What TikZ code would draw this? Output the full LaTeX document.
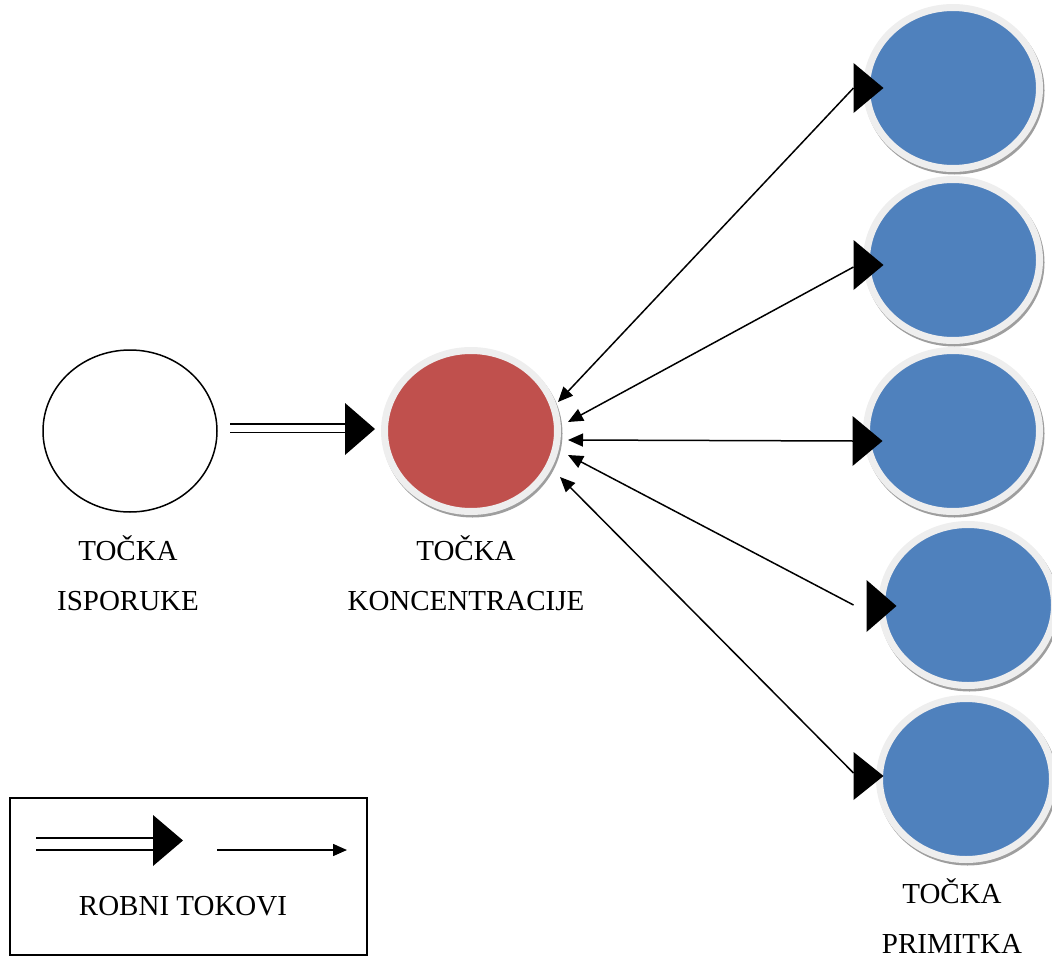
\documentclass[tikz,border=0pt]{standalone}
\usepackage{fontspec}
\setmainfont{Liberation Serif}
\usetikzlibrary{arrows.meta,shapes.geometric,calc}
\definecolor{redfill}{HTML}{C0504D}
\definecolor{bluefill}{HTML}{4F81BD}
\definecolor{ringcol}{HTML}{EEEEEE}
\begin{document}
\begin{tikzpicture}[x=1pt,y=-1pt,
  lbl/.style={font=\fontsize{29}{50}\selectfont, align=center, anchor=base, inner sep=0pt},
  dot/.style={ellipse, minimum width=173pt, minimum height=161pt, inner sep=0pt, outer sep=0pt,
    draw=ringcol, line width=7pt,
    preaction={draw=black!38, line width=7pt, transform canvas={shift={(1.5pt,-2.5pt)}}}},
  plain/.style={ellipse, draw=black, line width=1.5pt, minimum width=174pt, minimum height=162pt, inner sep=0pt, outer sep=0pt},
  flow/.style={line width=1.5pt, {Triangle[length=15pt,width=13pt]}-},
  dbl/.style={line width=1.5pt, double, double distance=#1},
  box/.style={draw=black, line width=1.5pt, minimum width=357pt, minimum height=157pt, inner sep=0pt, outer sep=0pt}
]
\useasboundingbox (0,0) rectangle (1052,958);

% nodes
\node[plain] (isp) at (130,431) {};
\node[dot, fill=redfill] (konc) at (471,431) {};
\node[dot, fill=bluefill] (b1) at (953,88) {};
\node[dot, fill=bluefill] (b2) at (953,260) {};
\node[dot, fill=bluefill] (b3) at (953,431) {};
\node[dot, fill=bluefill] (b4) at (968,605) {};
\node[dot, fill=bluefill] (b5) at (966,779) {};

% labels (anchor base = baseline of the last line)
\node[lbl] (lisp) at (128,610) {TOČKA\\ISPORUKE};
\node[lbl] (lkonc) at (466,610) {TOČKA\\KONCENTRACIJE};
\node[lbl] (lprim) at (952,953) {TOČKA\\PRIMITKA};

% double arrow supply -> concentration
\draw[dbl=7pt] ($(isp.east)+(13,-3)$) -- ($(konc.west)+(-36,-3)$);
\fill ($(konc.west)+(-39.5,-2)$) ++(0,-26) -- ++(30,26) -- ++(-30,26) -- cycle;

% flows between concentration and receiving points
\coordinate (k1) at (558,402);
\coordinate (k2) at (568,422);
\coordinate (k3) at (568,440);
\coordinate (k4) at (568,455);
\coordinate (k5) at (560,477);

\draw[flow] (k1) -- ($(b1.west)+(-13,0)$);
\draw[flow] (k2) -- ($(b2.west)+(-13,7)$);
\draw[flow] (k3) -- ($(b3.west)+(-13,10)$);
\draw[flow] (k4) -- ($(b4.west)+(-28,0)$);
\draw[flow] (k5) -- ($(b5.west)+(-26,-6)$);

\fill ($(b1.west)+(-13,0)$) ++(0,-25) -- ++(30,25) -- ++(-30,25) -- cycle;
\fill ($(b2.west)+(-13,5)$) ++(0,-25) -- ++(30,25) -- ++(-30,25) -- cycle;
\fill ($(b3.west)+(-14,10)$) ++(0,-25) -- ++(30,25) -- ++(-30,25) -- cycle;
\fill ($(b4.west)+(-15,1)$) ++(0,-26) -- ++(30,26) -- ++(-30,26) -- cycle;
\fill ($(b5.west)+(-26,-3)$) ++(0,-24) -- ++(30,24) -- ++(-30,24) -- cycle;

% legend
\node[box] (leg) at (188.5,876.5) {};
\coordinate (d1) at (36,844);
\coordinate (d2) at (160,844);
\draw[dbl=10.5pt] (d1) -- (d2);
\fill (153,840.5) ++(0,-25.5) -- ++(30,25.5) -- ++(-30,25.5) -- cycle;
\coordinate (s1) at (217,850);
\coordinate (s2) at (347,850);
\draw[line width=1.5pt, -{Triangle[length=14pt,width=12pt]}] (s1) -- (s2);
\node[lbl] (legtxt) at (183,915) {ROBNI TOKOVI};
\end{tikzpicture}
\end{document}
